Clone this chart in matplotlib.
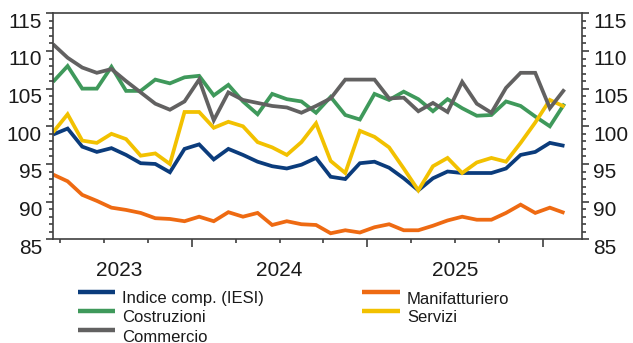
import numpy as np
import pandas as pd
import matplotlib
matplotlib.use("Agg")
import matplotlib.pyplot as plt
from matplotlib.lines import Line2D
from matplotlib.transforms import ScaledTranslation

plt.rcParams["font.family"] = ["Liberation Sans", "DejaVu Sans"]

# Monthly business confidence indices, March 2023 - February 2026
mesi = pd.period_range("2023-03", periods=36, freq="M")

iesi = [98.9, 99.7, 97.3, 96.6, 97.1, 96.2, 95.1, 95.0, 93.9, 97.0, 97.6, 95.6,
        97.0, 96.2, 95.3, 94.7, 94.4, 94.9, 95.8, 93.3, 93.0, 95.1, 95.3, 94.5,
        93.1, 91.5, 93.1, 94.0, 93.8, 93.8, 93.8, 94.4, 96.2, 96.6, 97.8, 97.4]
manifatturiero = [93.6, 92.7, 90.9, 90.1, 89.2, 88.9, 88.5, 87.8, 87.7, 87.4, 88.0, 87.4,
                  88.6, 88.0, 88.5, 86.9, 87.4, 87.0, 86.9, 85.8, 86.2, 85.9, 86.6, 87.0,
                  86.2, 86.2, 86.8, 87.5, 88.0, 87.6, 87.6, 88.5, 89.6, 88.5, 89.2, 88.5]
costruzioni = [105.9, 108.0, 105.0, 105.0, 107.9, 104.7, 104.7, 106.2, 105.7, 106.5, 106.7, 104.1,
               105.5, 103.3, 101.6, 104.3, 103.6, 103.3, 101.8, 103.9, 101.5, 100.9, 104.3, 103.5,
               104.6, 103.6, 102.0, 103.6, 102.4, 101.4, 101.5, 103.3, 102.7, 101.3, 100.0, 103.0]
servizi = [99.2, 101.6, 98.1, 97.8, 99.0, 98.3, 96.1, 96.4, 95.0, 101.9, 101.9, 99.8,
           100.6, 100.0, 97.9, 97.2, 96.2, 97.9, 100.4, 95.4, 93.8, 99.4, 98.6, 97.2,
           94.4, 91.5, 94.7, 95.8, 93.8, 95.2, 95.8, 95.3, 97.8, 100.5, 103.5, 102.6]
commercio = [110.9, 109.1, 107.8, 107.1, 107.6, 106.0, 104.5, 103.0, 102.2, 103.3, 106.2, 100.8,
             104.5, 103.5, 103.1, 102.7, 102.5, 101.8, 102.7, 103.7, 106.2, 106.2, 106.2, 103.7,
             103.8, 102.0, 103.1, 101.9, 105.9, 103.0, 101.8, 105.1, 107.1, 107.1, 102.4, 104.9]

nomi = ["Indice comp. (IESI)", "Manifatturiero", "Costruzioni", "Servizi", "Commercio"]
serie = [iesi, manifatturiero, costruzioni, servizi, commercio]
colori = ["#0b3c7c", "#ee6a12", "#3f995b", "#f2c100", "#626161"]

y_ticks = [85, 90, 95, 100, 105, 110, 115]

fig = plt.figure(figsize=(6.33, 3.43), dpi=100)
ax = fig.add_axes([53 / 633, 1 - 239.3 / 343, (582 - 53) / 633, (239.3 - 13.3) / 343])

x = np.arange(len(mesi))
for valori, colore in zip(serie, colori):
    ax.plot(x, valori, color=colore, lw=2.7, solid_joinstyle="miter", solid_capstyle="butt")

ax.set_xlim(0, 36.2)
ax.set_ylim(85, 115)

spine_col = "#404040"
for s in ax.spines.values():
    s.set_color(spine_col)
    s.set_linewidth(1.2)

# quarter boundaries on the x axis, longer ticks at year changes
inizio_trim = [i - 0.5 for i, m in enumerate(mesi) if m.month in (1, 4, 7, 10)]
inizio_anno = [i - 0.5 for i, m in enumerate(mesi) if m.month == 1]
ax.set_xticks(inizio_anno)
ax.set_xticks([t for t in inizio_trim if t not in inizio_anno], minor=True)
ax.tick_params(axis="x", which="major", length=5.5, width=1.2, color=spine_col, labelbottom=False)
ax.tick_params(axis="x", which="minor", length=3.2, width=1.2, color=spine_col)

ax.set_yticks(y_ticks)
ax.set_yticks(np.arange(85, 116, 1), minor=True)
ax.tick_params(axis="y", which="major", length=5, width=1.2, color=spine_col,
               left=True, right=True, labelleft=True, labelright=True,
               labelsize=15, labelcolor="#1a1a1a", pad=3)
ax.tick_params(axis="y", which="minor", length=3, width=1.2, color=spine_col,
               left=True, right=True)

shift = ScaledTranslation(0, -7 / 100, fig.dpi_scale_trans)
for tick in ax.yaxis.get_major_ticks():
    tick.label1.set_transform(tick.label1.get_transform() + shift)
    tick.label2.set_transform(tick.label2.get_transform() + shift)

# year labels centred on the months shown for each year
anni = sorted(set(m.year for m in mesi))
for anno in anni:
    idx = [i for i, m in enumerate(mesi) if m.year == anno]
    if len(idx) < 6:
        continue
    ax.text(np.mean(idx), -0.137, str(anno), transform=ax.get_xaxis_transform(),
            ha="center", va="center", fontsize=15, color="#1a1a1a")

# legend: two columns, filled row by row, text set below each key line
H = 343.0
col_x = [(78, 115, 122), (362, 400, 407)]
row_y = [291.5, 310.5, 329.5]
for k, (nome, colore) in enumerate(zip(nomi, colori)):
    r, c = divmod(k, 2)
    x0, x1, xt = col_x[c]
    yl = 1 - row_y[r] / H
    fig.add_artist(Line2D([x0 / 633, x1 / 633], [yl, yl], color=colore, lw=3.2,
                          solid_capstyle="butt", transform=fig.transFigure))
    fig.text(xt / 633, 1 - (row_y[r] + 7.5) / H, nome, ha="left", va="center",
             fontsize=12, color="#1a1a1a")

fig.savefig("out.png", dpi=100)
